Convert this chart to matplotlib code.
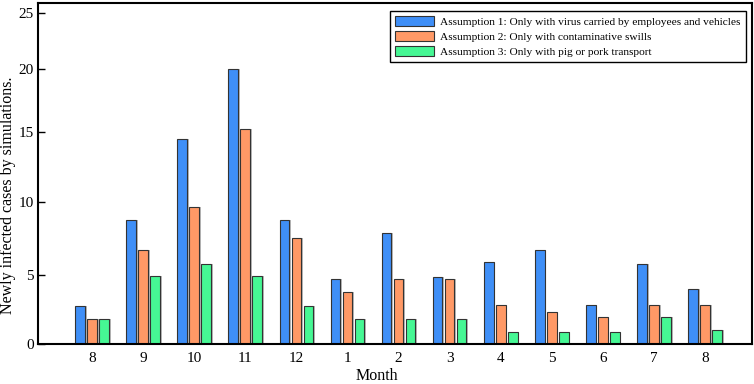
import matplotlib
matplotlib.use("Agg")
import matplotlib.pyplot as plt
import numpy as np

plt.rcParams["font.family"] = ["Liberation Serif", "DejaVu Serif"]

months = ["8", "9", "10", "11", "12", "1", "2", "3", "4", "5", "6", "7", "8"]
labels = [
    "Assumption 1: Only with virus carried by employees and vehicles",
    "Assumption 2: Only with contaminative swills",
    "Assumption 3: Only with pig or pork transport",
]
assumption1 = [2.75, 8.75, 14.5, 20.0, 8.75, 4.7, 7.9, 4.85, 5.9, 6.75, 2.8, 5.75, 4.0]
assumption2 = [1.85, 6.7, 9.65, 15.25, 7.55, 3.8, 4.7, 4.7, 2.8, 2.3, 1.95, 2.8, 2.8]
assumption3 = [1.85, 4.9, 5.75, 4.9, 2.75, 1.85, 1.85, 1.85, 0.9, 0.9, 0.9, 1.95, 1.0]
colors = ["#3f8ff7", "#ff9966", "#46f794"]

# the original y axis is slightly compressed towards the top
scale_vals = np.array([-5, 0, 5, 10, 15, 20, 25, 30])
scale_px = np.array([-69, 0, 69, 142, 212, 275, 331, 387])


def fwd(v):
    return np.interp(v, scale_vals, scale_px)


def inv(p):
    return np.interp(p, scale_px, scale_vals)


fig = plt.figure(figsize=(7.54, 3.84), dpi=100)
ax = fig.add_axes([0.0504, 0.104, 0.9469, 0.889])
ax.set_yscale("function", functions=(fwd, inv))

x = np.arange(len(months))
w = 0.19
off = 0.235
for i, (vals, c, lab) in enumerate(zip([assumption1, assumption2, assumption3], colors, labels)):
    xi = x + (i - 1) * off
    # light drop shadow on the right side of each bar
    ax.bar(xi + 0.035, vals, w, color="#b8b8b8", zorder=1)
    ax.bar(xi, vals, w, color=c, edgecolor="#333333", linewidth=0.8,
           label=lab, zorder=2)

ax.set_xlim(-1.06, 12.92)
ax.set_ylim(0, 25.95)
ax.set_xticks(x)
ax.set_xticklabels(months)
ax.set_yticks([0, 5, 10, 15, 20, 25])
ax.tick_params(axis="x", length=0, labelsize=11, pad=6)
ax.tick_params(axis="y", direction="in", length=5, width=1, labelsize=11, pad=3)
for s in ax.spines.values():
    s.set_linewidth(1.5)

ax.set_xlabel("Month", fontsize=11.5)
ax.xaxis.set_label_coords(0.475, -0.07)
ax.set_ylabel("Newly infected cases by simulations.", fontsize=11.5)
ax.yaxis.set_label_coords(-0.031, 0.437)

leg = ax.legend(loc="upper right", bbox_to_anchor=(0.9916, 0.976), fontsize=8.2,
                fancybox=False, edgecolor="black", framealpha=1,
                handlelength=3.4, handleheight=1.0, borderpad=0.45,
                labelspacing=0.35, handletextpad=0.6, borderaxespad=0)
leg.get_frame().set_linewidth(1.0)

fig.savefig("out.png", dpi=100)
